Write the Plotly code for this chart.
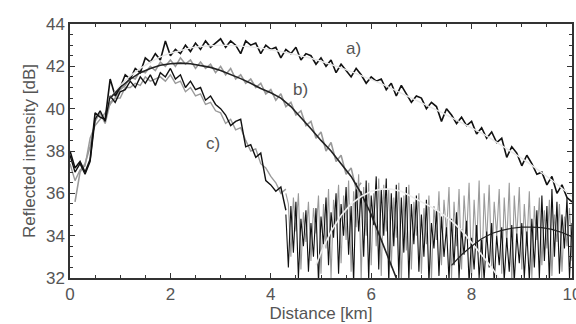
import plotly.graph_objects as go

# ---- data ----
# trace a) black noisy, 0..10 km step 0.1
dist_a = [round(0.1 * i, 2) for i in range(101)]
trace_a = [38.0, 37.2, 37.5, 37.0, 37.6, 39.8, 39.6, 39.5, 41.4, 40.6,
           41.0, 41.6, 41.4, 41.9, 41.7, 42.4, 42.2, 42.6, 42.3, 43.2,
           42.5, 42.8, 42.6, 43.0, 42.7, 43.1, 42.8, 43.2, 42.9, 43.1,
           43.3, 42.9, 43.2, 43.0, 42.6, 43.2, 43.0, 43.1, 42.6, 43.0,
           42.8, 42.9, 42.4, 42.8, 42.6, 42.9, 42.3, 42.6, 42.5, 42.1,
           42.4, 42.0, 42.3, 41.7, 42.1, 41.8, 41.5, 41.9, 41.6, 41.2,
           41.5, 41.3, 41.4, 40.9, 41.2, 40.6, 41.1, 40.7, 40.3, 40.6,
           40.5, 40.0, 40.3, 40.1, 39.4, 40.0, 39.7, 39.3, 39.6, 39.2,
           39.4, 38.8, 39.1, 38.6, 38.9, 38.4, 38.6, 37.7, 38.2, 37.9,
           37.3, 37.8, 37.4, 36.9, 37.0, 36.4, 36.8, 36.0, 36.4, 35.8,
           35.6]

# trace b) gray noisy, 0.1..5.8 km step 0.1
dist_b = [round(0.1 * i, 2) for i in range(1, 59)]
trace_b = [35.6, 37.0, 37.4, 38.2, 39.4, 39.8, 39.3, 40.3, 40.5,
           40.9, 41.1, 41.5, 41.4, 41.8, 41.7, 42.0, 41.8, 42.2, 42.0,
           42.3, 42.0, 42.4, 42.1, 42.3, 41.9, 42.2, 41.9, 42.1, 41.7,
           42.0, 41.6, 41.9, 41.4, 41.6, 41.2, 41.4, 41.0, 41.2, 40.7,
           40.9, 40.4, 40.7, 40.1, 40.3, 39.7, 39.9, 39.2, 39.4, 38.6,
           38.9, 38.0, 38.4, 37.5, 37.8, 36.9, 37.2, 36.2, 36.5]

# trace c) black and gray noisy, 0..4.3 km step 0.1
dist_c = [round(0.1 * i, 2) for i in range(44)]
trace_c_black = [37.8, 37.0, 37.4, 36.9, 37.5, 39.5, 39.9, 39.4, 40.6, 40.3,
                 40.8, 40.9, 41.3, 41.0, 41.5, 41.2, 41.6, 41.1, 41.7, 41.5,
                 41.9, 41.4, 41.6, 41.0, 41.3, 40.9, 41.0, 40.4, 40.6, 40.2,
                 40.0, 39.7, 39.2, 39.4, 39.5, 38.2, 38.3, 37.7, 37.9, 36.6,
                 36.4, 36.1, 36.3, 35.2]
trace_c_gray = [37.4, 36.6, 37.1, 37.3, 38.6, 39.2, 39.5, 39.8, 40.2, 40.5,
                40.5, 41.0, 41.0, 41.2, 41.1, 41.5, 41.3, 41.4, 41.5, 41.3,
                41.6, 41.2, 41.3, 40.8, 41.0, 40.6, 40.7, 40.2, 40.3, 39.9,
                39.8, 39.3, 39.5, 39.0, 39.1, 38.5, 38.0, 38.1, 37.4, 37.2,
                36.8, 36.5, 36.0, 36.2]

# noise floor, 4.30..10.00 km step 0.05
dist_n = [round(4.3 + 0.05 * i, 2) for i in range(115)]
noise_black = [35.0, 32.5, 35.4, 33.2, 35.6, 32.0, 34.8, 33.5, 35.2, 32.3,
               34.6, 33.0, 35.3, 31.8, 34.9, 33.6, 35.8, 32.6, 35.1, 33.9,
               36.0, 32.2, 35.5, 34.0, 36.3, 33.1, 35.4, 31.8, 36.5, 34.2,
               36.1, 33.0, 36.6, 31.9, 35.9, 34.5, 36.8, 32.4, 36.2, 34.0,
               36.7, 31.8, 36.0, 33.5, 36.4, 32.0, 35.8, 33.2, 36.3, 31.9,
               35.5, 33.6, 35.9, 32.3, 35.0, 33.0, 35.7, 31.8, 34.6, 33.4,
               35.2, 32.1, 34.9, 33.0, 34.4, 31.9, 34.8, 32.6, 35.1, 32.0,
               34.3, 33.1, 34.7, 31.8, 33.9, 32.4, 34.5, 32.0, 33.8, 31.9,
               34.2, 32.5, 34.6, 31.8, 34.0, 32.6, 34.4, 31.9, 33.9, 32.3,
               34.5, 31.8, 34.1, 32.7, 34.6, 32.0, 34.2, 31.9, 34.8, 32.5,
               35.2, 32.0, 35.9, 32.8, 35.4, 31.8, 36.2, 33.0, 35.6, 32.2,
               35.0, 33.4, 35.8, 32.0, 34.6]
noise_gray = [36.0, 35.5, 33.0, 35.8, 34.2, 36.0, 32.4, 35.1, 33.7, 35.6,
              32.8, 35.3, 34.1, 35.9, 32.2, 35.5, 33.4, 36.2, 32.0, 35.7,
              34.5, 36.4, 32.7, 35.9, 33.8, 36.6, 32.3, 36.1, 34.4, 36.9,
              31.9, 36.3, 34.0, 36.5, 32.6, 36.0, 33.5, 36.7, 32.1, 36.4,
              34.2, 36.2, 32.5, 35.8, 33.9, 36.5, 31.8, 35.9, 33.3, 36.4,
              32.4, 35.6, 34.0, 36.0, 32.2, 35.3, 33.6, 35.9, 31.9, 35.4,
              33.8, 36.1, 32.6, 35.7, 34.1, 36.3, 32.0, 35.6, 33.5, 36.2,
              32.4, 35.9, 33.9, 36.5, 32.1, 35.7, 33.4, 36.6, 31.9, 36.0,
              33.7, 36.4, 32.5, 35.6, 34.0, 36.2, 32.2, 35.8, 33.6, 36.5,
              31.8, 35.9, 33.9, 36.3, 32.4, 35.5, 33.5, 36.1, 32.0, 35.4,
              33.8, 35.8, 32.6, 35.2, 33.4, 35.7, 32.1, 35.0, 33.7, 35.5,
              32.3, 34.9, 33.5, 35.3, 32.8]

# smooth fits
fit_a_x = [0.8, 1.0, 1.2, 1.4, 1.6, 1.8, 2.0, 2.2, 2.4, 2.6, 2.8, 3.0, 3.2, 3.4,
           3.6, 3.8, 4.0, 4.2, 4.4, 4.6, 4.8, 5.0, 5.2, 5.4, 5.6, 5.8, 6.0, 6.2,
           6.4, 6.6, 6.8, 7.0, 7.2, 7.4, 7.6, 7.8, 8.0, 8.2, 8.4, 8.6, 8.8, 9.0,
           9.2, 9.4, 9.6, 9.8, 10.0]
fit_a_y = [40.5, 41.1, 41.55, 41.9, 42.2, 42.45, 42.62, 42.76, 42.87, 42.94,
           42.98, 43.0, 42.99, 42.96, 42.92, 42.86, 42.79, 42.7, 42.6, 42.5,
           42.38, 42.24, 42.1, 41.93, 41.75, 41.56, 41.38, 41.18, 40.96, 40.74,
           40.52, 40.28, 40.05, 39.82, 39.58, 39.34, 39.1, 38.84, 38.56, 38.27,
           37.97, 37.65, 37.32, 36.98, 36.62, 36.24, 35.85]
fit_b_x = [0.8, 1.0, 1.2, 1.4, 1.6, 1.8, 2.0, 2.2, 2.4, 2.6, 2.8, 3.0, 3.2, 3.4,
           3.6, 3.8, 4.0, 4.2, 4.4, 4.6, 4.8, 5.0, 5.2, 5.4, 5.6, 5.8, 6.0, 6.2,
           6.4, 6.5]
fit_b_y = [40.5, 41.0, 41.4, 41.7, 41.9, 42.05, 42.12, 42.15, 42.12, 42.05,
           41.95, 41.8, 41.62, 41.42, 41.2, 40.95, 40.75, 40.5, 40.1, 39.6,
           39.05, 38.5, 38.0, 37.4, 36.8, 36.0, 35.0, 33.8, 32.6, 32.0]
fit_d_x = [4.9, 5.0, 5.2, 5.4, 5.6, 5.8, 6.0, 6.2, 6.4, 6.6, 6.8, 7.0, 7.2, 7.4,
           7.6, 7.8, 8.0, 8.2, 8.4, 8.6]
fit_d_y = [32.6, 33.2, 34.2, 34.95, 35.5, 35.85, 36.1, 36.2, 36.2, 36.1, 35.85,
           35.6, 35.35, 35.05, 34.7, 34.25, 33.7, 33.1, 32.5, 31.8]
fit_e_x = [7.6, 7.8, 8.0, 8.2, 8.4, 8.6, 8.8, 9.0, 9.2, 9.4, 9.6, 9.8, 10.0]
fit_e_y = [32.6, 33.1, 33.5, 33.85, 34.1, 34.25, 34.35, 34.4, 34.4, 34.38,
           34.3, 34.15, 33.95]

labels = ["a)", "b)", "c)"]
label_x = [5.65, 4.6, 2.85]
label_y = [42.85, 40.9, 38.35]

x_ticks = [0, 2, 4, 6, 8, 10]
y_ticks = [32, 34, 36, 38, 40, 42, 44]

GRAY = "#9a9a9a"
BLACK = "#111111"
TXT = "#555555"
FONT = "Liberation Sans"

fig = go.Figure()


def line(x, y, color, width, dash="solid"):
    fig.add_trace(go.Scatter(x=x, y=y, mode="lines", showlegend=False,
                             hoverinfo="skip", cliponaxis=True,
                             line=dict(color=color, width=width, dash=dash)))


line(dist_n, noise_gray, GRAY, 1.1)
line(dist_n, noise_black, BLACK, 1.1)
line(dist_b, trace_b, GRAY, 1.6)
line(dist_c, trace_c_gray, GRAY, 1.4)
line(dist_c, trace_c_black, BLACK, 1.4)
line(dist_a, trace_a, BLACK, 1.6)
line(fit_a_x, fit_a_y, "#e8e8e8", 1.4)
line(fit_b_x, fit_b_y, "#222222", 1.6)
line(fit_d_x, fit_d_y, "#eeeeee", 1.6)
line(fit_e_x, fit_e_y, "#222222", 1.2)

for t, x, y in zip(labels, label_x, label_y):
    fig.add_annotation(x=x, y=y, text=t, showarrow=False,
                       font=dict(size=17, color=TXT, family=FONT))

axis_common = dict(showgrid=False, zeroline=False, showline=True,
                   linecolor="#333333", linewidth=1.5, mirror="ticks",
                   ticks="inside", ticklen=5, tickcolor="#333333",
                   automargin=False, ticklabeloverflow="allow",
                   tickfont=dict(size=17, color=TXT, family=FONT))

fig.update_xaxes(range=[0, 10], tickvals=x_ticks,
                 ticktext=[str(v) for v in x_ticks],
                 minor=dict(dtick=0.5, ticks="inside", ticklen=3,
                            tickcolor="#333333"),
                 title=dict(text="Distance [km]", standoff=0,
                            font=dict(size=17, color=TXT, family=FONT)),
                 **axis_common)
fig.update_yaxes(range=[32, 44], tickvals=y_ticks,
                 ticktext=[str(v) for v in y_ticks],
                 minor=dict(dtick=0.5, ticks="inside", ticklen=3,
                            tickcolor="#333333"),
                 title=dict(text="Reflected intensity [dB]", standoff=6,
                            font=dict(size=17, color=TXT, family=FONT)),
                 **axis_common)

fig.update_layout(width=576, height=324,
                  margin=dict(l=70, r=4, t=24, b=46),
                  paper_bgcolor="white", plot_bgcolor="white")

fig.write_html("out.html", config={"displayModeBar": False},
               post_script="document.body.style.margin='0';"
                           "document.body.style.padding='0';")
